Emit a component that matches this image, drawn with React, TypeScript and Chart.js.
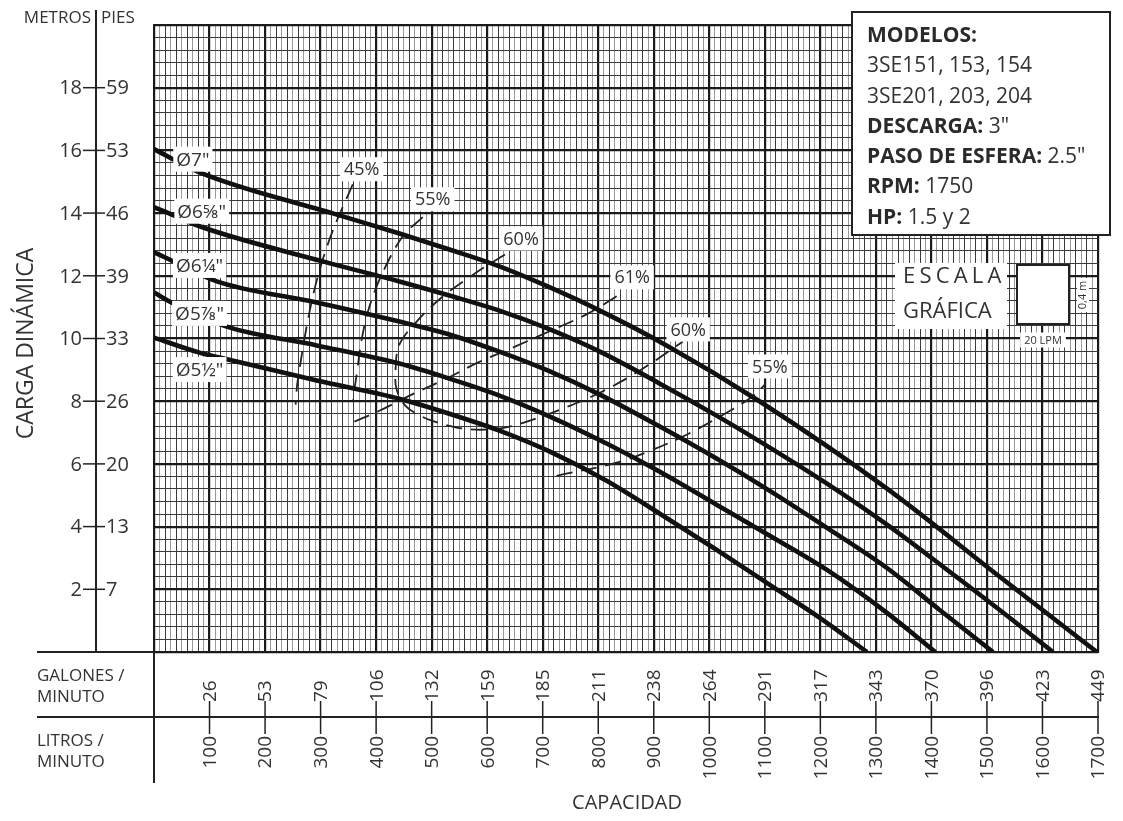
import React, { useEffect, useRef } from "react";
import { Chart, registerables } from "chart.js";

Chart.register(...registerables);

// ---------- axis tick labels ----------
const LPM_TICKS = [100, 200, 300, 400, 500, 600, 700, 800, 900, 1000, 1100, 1200, 1300, 1400, 1500, 1600, 1700];
const GPM_LABELS = ["26", "53", "79", "106", "132", "159", "185", "211", "238", "264", "291", "317", "343", "370", "396", "423", "449"];
const METROS_TICKS = [2, 4, 6, 8, 10, 12, 14, 16, 18];
const PIES_LABELS = ["7", "13", "20", "26", "33", "39", "46", "53", "59"];

// ---------- impeller curves (Q in LPM, H in m) ----------
const D7_Q = [0, 82, 322, 442, 532, 622, 713, 803, 923, 1091, 1320, 1523, 1698];
const D7_H = [16.04, 15.3, 13.99, 13.35, 12.84, 12.3, 11.63, 10.89, 9.78, 7.99, 5.21, 2.4, 0];

const D658_Q = [0, 22, 82, 304, 442, 532, 622, 713, 803, 911, 1013, 1109, 1212, 1320, 1421, 1523, 1619];
const D658_H = [14.19, 14.03, 13.58, 12.46, 11.82, 11.37, 10.89, 10.29, 9.58, 8.56, 7.54, 6.52, 5.37, 4.06, 2.72, 1.34, 0];

const D614_Q = [0, 28, 113, 293, 442, 532, 622, 713, 803, 911, 1013, 1109, 1212, 1320, 1415, 1511];
const D614_H = [12.75, 12.52, 11.82, 11.15, 10.54, 10.13, 9.58, 8.95, 8.21, 7.19, 6.17, 5.14, 3.96, 2.68, 1.34, 0];

const D578_Q = [0, 28, 131, 293, 442, 532, 622, 713, 815, 911, 1013, 1109, 1212, 1320, 1407];
const D578_H = [11.47, 11.18, 10.38, 9.78, 9.2, 8.72, 8.18, 7.51, 6.65, 5.75, 4.7, 3.71, 2.62, 1.25, 0];

const D512_Q = [0, 82, 141, 293, 442, 532, 622, 713, 815, 911, 1013, 1109, 1199, 1284];
const D512_H = [10.03, 9.55, 9.3, 8.66, 8.08, 7.6, 7.06, 6.39, 5.46, 4.41, 3.26, 2.14, 1.09, 0];

// ---------- efficiency curves ----------
const E45_Q = [358, 316, 286, 259, 255];
const E45_H = [14.92, 13.16, 11.34, 8.69, 7.89];

const E55L_Q = [484, 448, 412, 388, 374, 365, 358];
const E55L_H = [13.87, 13.26, 12.11, 11.02, 9.97, 8.85, 8.05];

const E60_Q = [632, 581, 520, 473, 442, 435, 437, 453, 477, 500, 545, 587, 632, 677, 731, 803, 875, 952];
const E60_H = [12.68, 12.11, 11.34, 10.54, 9.81, 9.01, 8.37, 7.85, 7.56, 7.38, 7.16, 7.09, 7.16, 7.38, 7.73, 8.27, 8.98, 9.9];

const E61_Q = [361, 403, 464, 523, 583, 650, 731, 779, 839];
const E61_H = [7.35, 7.67, 8.21, 8.69, 9.23, 9.74, 10.38, 10.77, 11.41];

const E55R_Q = [725, 833, 898, 959, 1019, 1078, 1100];
const E55R_H = [5.62, 6.04, 6.45, 6.93, 7.51, 8.15, 8.53];

// ---------- labels ----------
const DIAM_NAMES = ['Ø7"', 'Ø6⅝"', 'Ø6¼"', 'Ø5⅞"', 'Ø5½"'];
const DIAM_LABEL_Q = [70, 86, 82, 82, 82];
const DIAM_LABEL_H = [15.72, 14.06, 12.33, 10.8, 9.01];

const EFF_NAMES = ["45%", "55%", "60%", "61%", "60%", "55%"];
const EFF_LABEL_Q = [374, 502, 661, 861, 962, 1109];
const EFF_LABEL_H = [15.4, 14.44, 13.19, 11.95, 10.29, 9.11];

const INFO_LINES: [string, string][] = [
  ["MODELOS:", ""],
  ["", "3SE151, 153, 154"],
  ["", "3SE201, 203, 204"],
  ["DESCARGA:", " 3\""],
  ["PASO DE ESFERA:", " 2.5\""],
  ["RPM:", " 1750"],
  ["HP:", " 1.5 y 2"],
];

const FONT = "'Open Sans', 'Noto Sans', 'DejaVu Sans', sans-serif";
const TXT = "#333";

const pts = (q: number[], h: number[]) => q.map((v, i) => ({ x: v, y: h[i] }));

function boxText(ctx: CanvasRenderingContext2D, text: string, x: number, y: number, size: number, padX = 3, padY = 2) {
  ctx.font = `${size}px ${FONT}`;
  const w = ctx.measureText(text).width;
  ctx.fillStyle = "#fff";
  ctx.fillRect(x - w / 2 - padX, y - size / 2 - padY, w + padX * 2, size + padY * 2);
  ctx.fillStyle = TXT;
  ctx.textAlign = "center";
  ctx.textBaseline = "middle";
  ctx.fillText(text, x, y + 1);
}

const overlay = {
  id: "overlay",
  afterDraw(chart: any) {
    const ctx: CanvasRenderingContext2D = chart.ctx;
    const xs = chart.scales.x;
    const ys = chart.scales.y;
    const X = (v: number) => xs.getPixelForValue(v);
    const Y = (v: number) => ys.getPixelForValue(v);
    const area = chart.chartArea;
    ctx.save();

    // curve labels
    DIAM_NAMES.forEach((t, i) => boxText(ctx, t, X(DIAM_LABEL_Q[i]), Y(DIAM_LABEL_H[i]), 19, 3, 3));
    EFF_NAMES.forEach((t, i) => boxText(ctx, t, X(EFF_LABEL_Q[i]), Y(EFF_LABEL_H[i]), 18, 4, 3));

    // left head axis
    ctx.strokeStyle = "#222";
    ctx.lineWidth = 2;
    ctx.beginPath();
    ctx.moveTo(96, 10);
    ctx.lineTo(96, area.bottom);
    ctx.stroke();
    ctx.fillStyle = TXT;
    ctx.font = `17px ${FONT}`;
    ctx.textBaseline = "middle";
    ctx.textAlign = "right";
    ctx.fillText("METROS", 91, 18);
    ctx.textAlign = "left";
    ctx.fillText("PIES", 101, 18);
    ctx.font = `20px ${FONT}`;
    ctx.lineWidth = 1.5;
    METROS_TICKS.forEach((m, i) => {
      const y = Y(m);
      ctx.beginPath();
      ctx.moveTo(83, y);
      ctx.lineTo(105, y);
      ctx.stroke();
      ctx.textAlign = "right";
      ctx.fillText(String(m), 82, y + 1);
      ctx.textAlign = "left";
      ctx.fillText(PIES_LABELS[i], 106, y + 1);
    });
    ctx.save();
    ctx.translate(26, (area.top + area.bottom) / 2 + 5);
    ctx.rotate(-Math.PI / 2);
    ctx.textAlign = "center";
    ctx.font = `23px ${FONT}`;
    ctx.fillText("CARGA DINÁMICA", 0, 0);
    ctx.restore();

    // bottom capacity table
    const yMid = area.bottom + 65;
    ctx.strokeStyle = "#222";
    ctx.lineWidth = 2;
    ctx.beginPath();
    ctx.moveTo(37, area.bottom);
    ctx.lineTo(area.left, area.bottom);
    ctx.moveTo(37, yMid);
    ctx.lineTo(area.right + 1, yMid);
    ctx.moveTo(area.left, area.bottom);
    ctx.lineTo(area.left, area.bottom + 131);
    ctx.stroke();
    ctx.font = `17px ${FONT}`;
    ctx.textAlign = "left";
    ctx.fillText("GALONES /", 37, area.bottom + 24);
    ctx.fillText("MINUTO", 37, area.bottom + 45);
    ctx.fillText("LITROS /", 37, area.bottom + 89);
    ctx.fillText("MINUTO", 37, area.bottom + 110);
    ctx.lineWidth = 1.5;
    ctx.font = `19px ${FONT}`;
    LPM_TICKS.forEach((q, i) => {
      const x = X(q);
      ctx.beginPath();
      ctx.moveTo(x, yMid - 16);
      ctx.lineTo(x, yMid + 17);
      ctx.stroke();
      ctx.save();
      ctx.translate(x + 1, yMid - 15);
      ctx.rotate(-Math.PI / 2);
      ctx.textAlign = "left";
      ctx.textBaseline = "middle";
      ctx.fillText(GPM_LABELS[i], 0, 0);
      ctx.restore();
      ctx.save();
      ctx.translate(x + 1, yMid + 19);
      ctx.rotate(-Math.PI / 2);
      ctx.textAlign = "right";
      ctx.textBaseline = "middle";
      ctx.fillText(String(q), 0, 0);
      ctx.restore();
    });
    ctx.font = `20px ${FONT}`;
    ctx.textAlign = "center";
    ctx.fillText("CAPACIDAD", 627, 803);

    // info box
    ctx.fillStyle = "#fff";
    ctx.fillRect(852, 12, 258, 223);
    ctx.strokeStyle = "#222";
    ctx.lineWidth = 2;
    ctx.strokeRect(852, 12, 258, 223);
    ctx.textAlign = "left";
    ctx.textBaseline = "middle";
    INFO_LINES.forEach(([b, r], i) => {
      const y = 36 + i * 30.3;
      let x = 867;
      ctx.fillStyle = "#2a2a2a";
      if (b) {
        ctx.font = `bold 21px ${FONT}`;
        ctx.fillText(b, x, y);
        x += ctx.measureText(b).width;
      }
      if (r) {
        ctx.font = `21px ${FONT}`;
        ctx.fillStyle = TXT;
        ctx.fillText(r, x, y);
      }
    });

    // escala gráfica
    ctx.fillStyle = "#fff";
    ctx.fillRect(895, 263, 112, 66);
    ctx.fillStyle = TXT;
    ctx.font = `22px ${FONT}`;
    let cx = 903;
    for (const ch of "ESCALA") {
      ctx.fillText(ch, cx, 277);
      cx += ctx.measureText(ch).width + 4.2;
    }
    ctx.fillText("GRÁFICA", 903, 312);
    ctx.fillStyle = "#fff";
    ctx.fillRect(1017, 265, 52, 59);
    ctx.strokeStyle = "#222";
    ctx.lineWidth = 2;
    ctx.strokeRect(1017, 265, 52, 59);
    ctx.fillStyle = "#fff";
    ctx.fillRect(1077, 278, 12, 34);
    ctx.fillStyle = TXT;
    ctx.font = `11px ${FONT}`;
    ctx.save();
    ctx.translate(1083, 295);
    ctx.rotate(-Math.PI / 2);
    ctx.textAlign = "center";
    ctx.fillText("0,4 m", 0, 0);
    ctx.restore();
    boxText(ctx, "20 LPM", 1043, 340, 11, 4, 2);

    ctx.restore();
  },
};

export default function App() {
  const ref = useRef<HTMLCanvasElement>(null);
  useEffect(() => {
    const solid = (q: number[], h: number[]) => ({
      data: pts(q, h),
      borderColor: "#111",
      borderWidth: 4.6,
      pointRadius: 0,
      fill: false,
      cubicInterpolationMode: "monotone" as const,
    });
    const dashed = (q: number[], h: number[]) => ({
      data: pts(q, h),
      borderColor: "#222",
      borderWidth: 1.8,
      borderDash: [16, 9],
      pointRadius: 0,
      fill: false,
      tension: 0.35,
    });
    const chart = new Chart(ref.current!, {
      type: "line",
      data: {
        datasets: [
          solid(D7_Q, D7_H),
          solid(D658_Q, D658_H),
          solid(D614_Q, D614_H),
          solid(D578_Q, D578_H),
          solid(D512_Q, D512_H),
          dashed(E45_Q, E45_H),
          dashed(E55L_Q, E55L_H),
          dashed(E60_Q, E60_H),
          dashed(E61_Q, E61_H),
          dashed(E55R_Q, E55R_H),
        ] as any,
      },
      options: {
        responsive: false,
        animation: false,
        devicePixelRatio: 1,
        layout: { padding: { left: 154, top: 25, right: 25, bottom: 169 } },
        plugins: { legend: { display: false }, tooltip: { enabled: false } },
        scales: {
          x: {
            type: "linear",
            min: 0,
            max: 1700,
            ticks: { display: false, stepSize: 10, maxTicksLimit: 1000, autoSkip: false },
            grid: {
              drawTicks: false,
              color: (c: any) => {
                const v = Math.round(c.tick.value);
                return v % 100 === 0 ? "#1a1a1a" : v % 20 === 0 ? "#3a3a3a" : "#9a9a9a";
              },
              lineWidth: (c: any) => (Math.round(c.tick.value) % 100 === 0 ? 2.2 : 1),
            },
            border: { display: true, color: "#1a1a1a", width: 2 },
          },
          y: {
            type: "linear",
            min: 0,
            max: 20,
            ticks: { display: false, stepSize: 0.4, maxTicksLimit: 1000 },
            grid: {
              drawTicks: false,
              color: (c: any) => {
                const v = c.tick.value / 2;
                return Math.abs(v - Math.round(v)) < 1e-6 ? "#1a1a1a" : "#3a3a3a";
              },
              lineWidth: (c: any) => {
                const v = c.tick.value / 2;
                return Math.abs(v - Math.round(v)) < 1e-6 ? 2.2 : 1;
              },
            },
            border: { display: true, color: "#1a1a1a", width: 2 },
          },
        },
      },
      plugins: [overlay],
    });
    return () => chart.destroy();
  }, []);
  return (
    <div style={{ position: "fixed", left: 0, top: 0, width: 1123, height: 821, background: "#fff" }}>
      <canvas ref={ref} width={1123} height={821} style={{ display: "block" }} />
    </div>
  );
}
